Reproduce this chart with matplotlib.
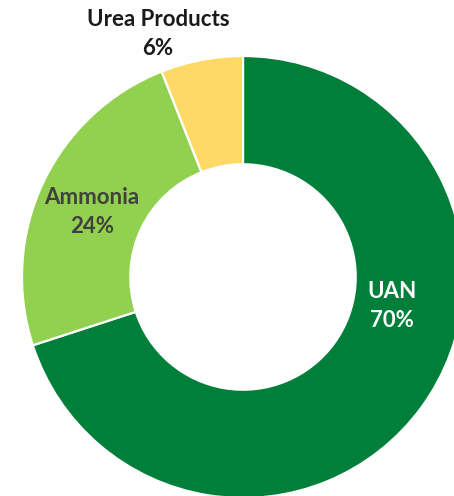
import matplotlib
matplotlib.use("Agg")
from matplotlib import pyplot as plt

# data
categories = ["UAN", "Ammonia", "Urea Products"]
shares = [70, 24, 6]

# styles
colors = ["#007F3A", "#92D050", "#FFD966"]
label_colors = ["white", "#404040", "#1a1a1a"]
label_pos = [(0.675, -0.131), (-0.683, 0.294), (-0.385, 1.10)]

W, H = 454, 496
cx, cy, R = 243, 277, 221  # pixel centre and outer radius

fig = plt.figure(figsize=(W / 100, H / 100), dpi=100)
ax = fig.add_axes([0, 0, 1, 1])
ax.pie(shares, colors=colors, startangle=90, counterclock=False,
       radius=1, wedgeprops=dict(width=0.49, edgecolor="white", linewidth=1.6))
ax.set_xlim(-cx / R, (W - cx) / R)
ax.set_ylim(-(H - cy) / R, cy / R)
ax.set_aspect("equal")
ax.axis("off")

for name, val, col, (x, y) in zip(categories, shares, label_colors, label_pos):
    ax.text(x, y, f"{name}\n{val}%", ha="center", va="center", color=col,
            fontsize=16, fontweight="bold", family=["Lato", "DejaVu Sans"],
            linespacing=1.45)

fig.savefig("out.png", dpi=100)
